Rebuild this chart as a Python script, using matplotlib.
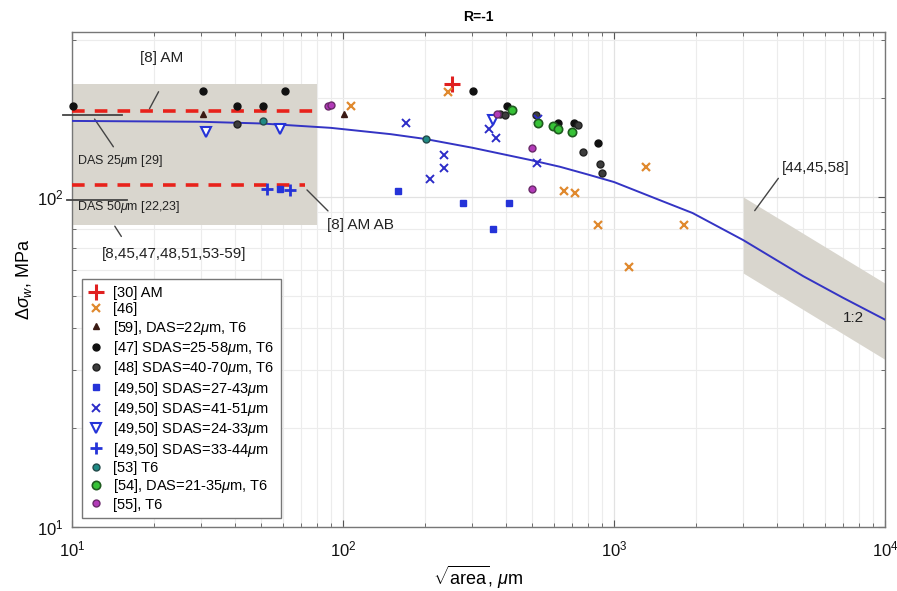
import numpy as np
import matplotlib
matplotlib.use('Agg')
import matplotlib.pyplot as plt
from matplotlib.ticker import LogLocator, NullFormatter

plt.rcParams['font.family'] = ['Liberation Sans', 'DejaVu Sans']
plt.rcParams['mathtext.fontset'] = 'custom'
plt.rcParams['mathtext.rm'] = 'Liberation Sans'
plt.rcParams['mathtext.it'] = 'Liberation Sans:italic'
plt.rcParams['mathtext.bf'] = 'Liberation Sans:bold'

# ---------------------------------------------------------
# Data (sqrt(area) in um, stress in MPa)
# ---------------------------------------------------------
am30_x = [253]
am30_y = [220]

ref46_x = [106.7, 245, 654, 718, 875, 1309, 1815, 1139]
ref46_y = [189, 208, 104, 103, 82.5, 123.5, 82, 61.5]

ref59_x = [30.5, 101]
ref59_y = [179, 178]

ref47_x = [10.1, 30.5, 40.5, 50.5, 61, 303, 402, 623, 714, 875]
ref47_y = [189, 209, 189, 189, 209, 209, 189, 167, 167, 146]

ref48_x = [40.5, 379, 396, 514, 735, 766, 888, 903]
ref48_y = [166, 179, 177, 177, 165, 137, 126, 118]

sq_x = [58.5, 159, 278, 410, 357]
sq_y = [106, 104.3, 96, 96, 80]

cross_x = [171, 236, 236, 209.5, 346, 368, 526, 518]
cross_y = [167, 134, 122, 113.4, 161, 151, 172, 127]

tri_x = [31.1, 58.5, 359]
tri_y = [157, 161, 171]

plus_x = [52.6, 63.7]
plus_y = [106, 105]

ref53_x = [50.5, 202]
ref53_y = [170, 150]

ref54_x = [419, 526, 597, 619, 702]
ref54_y = [183, 167, 164, 161, 157]

ref55_x = [88, 90, 370, 500, 500]
ref55_y = [189, 190, 178, 141, 105.7]

# fitted curve
curve_x = [10, 30, 50, 90, 150, 200, 300, 490, 631, 800, 1000, 1500, 1950, 3000, 5000, 7000, 10000]
curve_y = [170, 169, 167, 162, 155, 150, 141, 129.5, 123.5, 117, 111, 97.3, 89.4, 74, 57.5, 49.5, 42.5]

# shaded regions
box_x = [10, 80]
box_y = [82, 220]
band_x = [3000, 10000]
band_top = [100, 54.8]
band_bot = [58.8, 32.2]

# reference levels
am8_level = 182.6
amab_level = 108.5
das25_level = 177
das50_level = 98

fig = plt.figure(figsize=(8.97, 5.91), dpi=100)
ax = fig.add_axes([0.0803, 0.1083, 0.9063, 0.8376])
ax.set_xscale('log')
ax.set_yscale('log')
ax.set_xlim(10, 1e4)
ax.set_ylim(10, 10 ** 2.5)

# shaded boxes
ax.fill_between(box_x, [box_y[0]] * 2, [box_y[1]] * 2, color='#d9d6ce', zorder=1, lw=0)
ax.fill_between(band_x, band_bot, band_top, color='#d9d6ce', zorder=1, lw=0)

# red dashed levels and black short lines
ax.plot([10, 80], [am8_level] * 2, color='#e8221b', lw=2.6, ls=(0, (3.5, 2.8)), zorder=3)
ax.plot([10, 72.5], [amab_level] * 2, color='#e8221b', lw=2.6, ls=(0, (3.5, 2.8)), zorder=3)
ax.plot([9.3, 15.3], [das25_level] * 2, color='#444444', lw=1.3, zorder=3, clip_on=False)
ax.plot([9.6, 16], [das50_level] * 2, color='#444444', lw=1.3, zorder=3, clip_on=False)

# fitted curve
ax.plot(curve_x, curve_y, color='#3434c4', lw=1.4, zorder=4)

# data series
ms = 5
series = [
    (am30_x, am30_y, dict(marker='+', color='#e02020', ms=11, mew=2.2), '[30] AM'),
    (ref46_x, ref46_y, dict(marker='x', color='#e0892e', ms=6, mew=1.6), '[46]'),
    (ref59_x, ref59_y, dict(marker='^', color='#3a1a14', ms=ms), r'[59], DAS=22$\mu$m, T6'),
    (ref47_x, ref47_y, dict(marker='o', color='#111111', ms=ms), r'[47] SDAS=25-58$\mu$m, T6'),
    (ref48_x, ref48_y, dict(marker='o', color='#3c3c3c', mec='#222222', ms=ms), r'[48] SDAS=40-70$\mu$m, T6'),
    (sq_x, sq_y, dict(marker='s', color='#2533d8', ms=ms), r'[49,50] SDAS=27-43$\mu$m'),
    (cross_x, cross_y, dict(marker='x', color='#2c2cc8', ms=6, mew=1.4), r'[49,50] SDAS=41-51$\mu$m'),
    (tri_x, tri_y, dict(marker='v', color='#2533d8', mfc='white', ms=7, mew=1.5), r'[49,50] SDAS=24-33$\mu$m'),
    (plus_x, plus_y, dict(marker='+', color='#2533d8', ms=8, mew=2), r'[49,50] SDAS=33-44$\mu$m'),
    (ref53_x, ref53_y, dict(marker='o', color='#1f8a84', mec='#234a4a', ms=ms), '[53] T6'),
    (ref54_x, ref54_y, dict(marker='o', color='#36c236', mec='#1f5a1f', ms=ms + 1, mew=1.2), r'[54], DAS=21-35$\mu$m, T6'),
    (ref55_x, ref55_y, dict(marker='o', color='#b23ab8', mec='#6a2a6a', ms=ms), '[55], T6'),
]
for xs, ys, style, label in series:
    ax.plot(xs, ys, ls='none', label=label, zorder=5, clip_on=False, **style)

# annotations
txt = dict(fontsize=11, color='#222222')
ln = dict(arrowstyle='-', color='#444444', lw=1.0)
ax.text(21.5, 263, '[8] AM', ha='center', va='center', **txt)
ax.annotate('', xy=(19.1, 182), xytext=(21.1, 212), arrowprops=ln)
ax.text(10.4, 128.5, r'DAS 25$\mu$m [29]', ha='left', va='center', fontsize=9, color='#222222')
ax.annotate('', xy=(11.95, 175), xytext=(14.4, 139.7), arrowprops=ln)
ax.text(10.4, 93.3, r'DAS 50$\mu$m [22,23]', ha='left', va='center', fontsize=9, color='#222222')
ax.text(12.9, 67.3, '[8,45,47,48,51,53-59]', ha='left', va='center', **txt)
ax.annotate('', xy=(14.2, 82.9), xytext=(15.4, 74.7), arrowprops=ln)
ax.text(87.3, 82.3, '[8] AM AB', ha='left', va='center', **txt)
ax.annotate('', xy=(72.4, 106.5), xytext=(89.5, 89.5), arrowprops=ln)
ax.text(4170, 122, '[44,45,58]', ha='left', va='center', **txt)
ax.annotate('', xy=(3260, 89.5), xytext=(4098, 115.7), arrowprops=ln)
ax.text(7620, 43.1, '1:2', ha='center', va='center', **txt)

# axes styling (MATLAB-like)
ax.xaxis.set_major_locator(LogLocator(base=10, numticks=10))
ax.xaxis.set_minor_locator(LogLocator(base=10, subs=np.arange(2, 10), numticks=30))
ax.yaxis.set_minor_locator(LogLocator(base=10, subs=np.arange(2, 10), numticks=30))
ax.xaxis.set_minor_formatter(NullFormatter())
ax.yaxis.set_minor_formatter(NullFormatter())
ax.grid(True, which='major', color='#e2e2e2', lw=0.9, zorder=0)
ax.grid(True, which='minor', color='#ececec', lw=0.8, zorder=0)
ax.set_axisbelow(True)
ax.tick_params(which='both', direction='in', top=True, right=True, colors='#555555',
               labelcolor='#111111', labelsize=12)
ax.tick_params(axis='x', which='major', pad=9)
ax.tick_params(axis='y', which='major', pad=6)
ax.tick_params(which='major', length=5)
ax.tick_params(which='minor', length=3)
for s in ax.spines.values():
    s.set_color('#777777')
    s.set_linewidth(1.0)

ax.set_title('R=-1', fontsize=10, fontweight='bold', pad=8)
ax.set_xlabel(r'$\sqrt{\mathrm{area}}$, $\mu$m', fontsize=13, labelpad=3)
ax.set_ylabel(r'$\Delta\sigma_w$, MPa', fontsize=13, labelpad=2)

leg = ax.legend(loc='lower left', bbox_to_anchor=(0.012, 0.018), fontsize=10.5, frameon=True,
                fancybox=False, edgecolor='#777777', framealpha=1, labelspacing=0.16,
                handlelength=1.0, handletextpad=0.7, borderpad=0.45, borderaxespad=0)
leg.get_frame().set_linewidth(1.0)

plt.savefig('out.png', dpi=100)
plt.close()
